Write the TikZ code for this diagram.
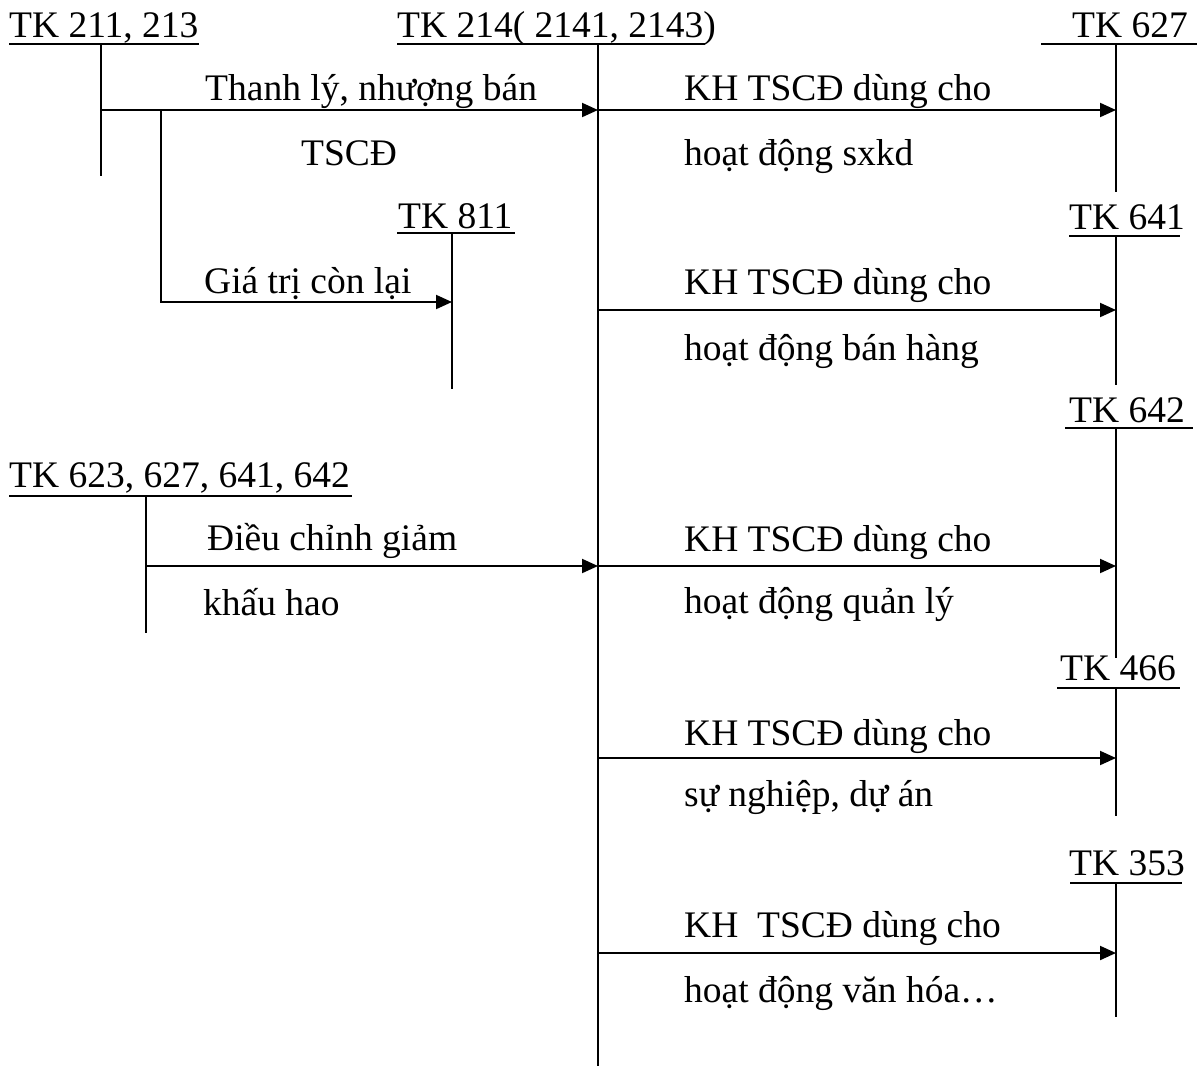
\documentclass[tikz,border=0pt]{standalone}
\usepackage{fontspec}
\setmainfont{Liberation Serif}
\newfontfamily\tnrfont{Liberation Serif}
\usetikzlibrary{arrows.meta}
\begin{document}
\begin{tikzpicture}[x=1pt,y=-1pt,
  txt/.style={anchor=base west, inner sep=0pt, font=\tnrfont\fontsize{37.5}{45}\selectfont},
  ln/.style={line width=2pt},
  arr/.style={line width=2pt, -{Triangle[length=16pt,width=14pt]}}]
\useasboundingbox (0,0) rectangle (1201,1066);

% ---- account labels ----
\node[txt] (a211) at (9,37) {TK 211, 213};
\node[txt] (a214) at (397,37) {TK 214( 2141, 2143)};
\node[txt] (a627) at (1072,37) {TK 627};
\node[txt] (a811) at (398,228) {TK 811};
\node[txt] (a641) at (1069,229) {TK 641};
\node[txt] (a642) at (1069,422) {TK 642};
\node[txt] (a623) at (9,487) {TK 623, 627, 641, 642};
\node[txt] (a466) at (1060,680) {TK 466};
\node[txt] (a353) at (1069,875) {TK 353};

% ---- T-account lines ----
\coordinate (u211a) at (9,44);    \coordinate (u211b) at (199,44);
\coordinate (v211t) at (101,44);  \coordinate (v211b) at (101,176);
\coordinate (u214a) at (397,44);  \coordinate (u214b) at (705,44);
\coordinate (v214t) at (598,44);  \coordinate (v214b) at (598,1066);
\coordinate (u627a) at (1041,44); \coordinate (u627b) at (1197,44);
\coordinate (v627t) at (1116,44); \coordinate (v627b) at (1116,192);
\coordinate (u811a) at (397,233); \coordinate (u811b) at (515,233);
\coordinate (v811t) at (452,233); \coordinate (v811b) at (452,389);
\coordinate (u641a) at (1069,236);\coordinate (u641b) at (1180,236);
\coordinate (v641t) at (1116,236);\coordinate (v641b) at (1116,385);
\coordinate (u642a) at (1065,428);\coordinate (u642b) at (1193,428);
\coordinate (v642t) at (1116,428);\coordinate (v642b) at (1116,658);
\coordinate (u623a) at (9,496);   \coordinate (u623b) at (352,496);
\coordinate (v623t) at (146,496); \coordinate (v623b) at (146,633);
\coordinate (u466a) at (1057,688);\coordinate (u466b) at (1180,688);
\coordinate (v466t) at (1116,688);\coordinate (v466b) at (1116,816);
\coordinate (u353a) at (1070,883);\coordinate (u353b) at (1182,883);
\coordinate (v353t) at (1116,883);\coordinate (v353b) at (1116,1017);

\foreach \n in {211,214,627,811,641,642,623,466,353}{
  \draw[ln] (u\n a) -- (u\n b);
  \draw[ln] (v\n t) -- (v\n b);
}

% ---- arrows ----
\coordinate (s1) at (101,110);  \coordinate (e1) at (598,110);
\coordinate (b1) at (161,110);  \coordinate (b2) at (161,302); \coordinate (e2) at (452,302);
\coordinate (s3) at (146,566);  \coordinate (e3) at (598,566);
\coordinate (r1s) at (598,110); \coordinate (r1e) at (1116,110);
\coordinate (r2s) at (598,310); \coordinate (r2e) at (1116,310);
\coordinate (r3s) at (598,566); \coordinate (r3e) at (1116,566);
\coordinate (r4s) at (598,758); \coordinate (r4e) at (1116,758);
\coordinate (r5s) at (598,953); \coordinate (r5e) at (1116,953);

\draw[arr] (s1) -- (e1);
\draw[arr] (b1) -- (b2) -- (e2);
\draw[arr] (s3) -- (e3);
\draw[arr] (r1s) -- (r1e);
\draw[arr] (r2s) -- (r2e);
\draw[arr] (r3s) -- (r3e);
\draw[arr] (r4s) -- (r4e);
\draw[arr] (r5s) -- (r5e);

% ---- arrow texts ----
\node[txt] (t1) at (205,100) {Thanh lý, nhượng bán};
\node[txt] (t2) at (301,165) {TSCĐ};
\node[txt] (t3) at (204,293) {Giá trị còn lại};
\node[txt] (t4) at (207,550) {Điều chỉnh giảm};
\node[txt] (t5) at (203,615) {khấu hao};

\node[txt] (k1a) at (684,100) {KH TSCĐ dùng cho};
\node[txt] (k1b) at (684,165) {hoạt động sxkd};
\node[txt] (k2a) at (684,294) {KH TSCĐ dùng cho};
\node[txt] (k2b) at (684,360) {hoạt động bán hàng};
\node[txt] (k3a) at (684,551) {KH TSCĐ dùng cho};
\node[txt] (k3b) at (684,613) {hoạt động quản lý};
\node[txt] (k4a) at (684,745) {KH TSCĐ dùng cho};
\node[txt] (k4b) at (684,806) {sự nghiệp, dự án};
\node[txt] (k5a) at (684,937) {KH\ \ TSCĐ dùng cho};
\node[txt] (k5b) at (684,1002) {hoạt động văn hóa…};
\end{tikzpicture}
\end{document}
